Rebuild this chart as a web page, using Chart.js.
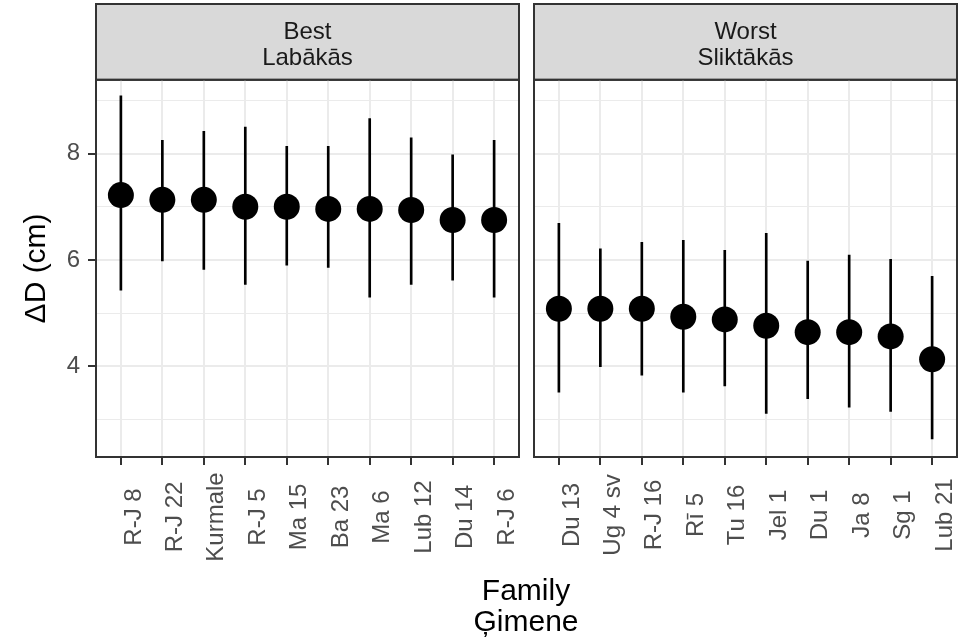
<!DOCTYPE html>
<html>
<head>
<meta charset="utf-8">
<title>ΔD by family</title>
<script src="https://cdn.jsdelivr.net/npm/chart.js@4/dist/chart.umd.min.js"></script>
<style>
    html, body { margin: 0; padding: 0; background: #fff; }
    #wrap { position: relative; width: 960px; height: 642px; overflow: hidden; }
    #wrap canvas { position: absolute; top: 0; }
    #chart-best { left: 0; }
    #chart-worst { left: 525px; }
    #x-title {
        position: absolute; left: 326px; top: 574px; width: 400px;
        text-align: center; font: 30px/31px "Liberation Sans", Arial, sans-serif; color: #000;
    }
</style>
</head>
<body>
<div id="wrap">
    <canvas id="chart-best" width="525" height="642"></canvas>
    <canvas id="chart-worst" width="435" height="642"></canvas>
    <div id="x-title">Family<br>Ģimene</div>
</div>
<script>
// values (ΔD, cm): mean and interval ends per family
const bestFamilies = ['R-J 8', 'R-J 22', 'Kurmale', 'R-J 5', 'Ma 15', 'Ba 23', 'Ma 6', 'Lub 12', 'Du 14', 'R-J 6'];
const bestMean = [7.22, 7.13, 7.13, 7.00, 7.00, 6.96, 6.96, 6.94, 6.75, 6.75];
const bestLow = [5.43, 5.98, 5.82, 5.54, 5.90, 5.86, 5.30, 5.54, 5.62, 5.30];
const bestHigh = [9.09, 8.25, 8.42, 8.50, 8.14, 8.14, 8.66, 8.30, 7.98, 8.25];

const worstFamilies = ['Du 13', 'Ug 4 sv', 'R-J 16', 'Rī 5', 'Tu 16', 'Jel 1', 'Du 1', 'Ja 8', 'Sg 1', 'Lub 21'];
const worstMean = [5.08, 5.08, 5.08, 4.93, 4.88, 4.76, 4.64, 4.64, 4.56, 4.13];
const worstLow = [3.51, 3.99, 3.83, 3.51, 3.63, 3.11, 3.39, 3.23, 3.15, 2.63];
const worstHigh = [6.69, 6.21, 6.33, 6.37, 6.18, 6.50, 5.98, 6.09, 6.01, 5.69];

const yTicks = [3, 4, 5, 6, 7, 8, 9];
const yLabelled = [4, 6, 8];
const yMin = 2.29;
const yMax = 9.39;

const FONT = '"Liberation Sans", Arial, sans-serif';
const DARK = '#333333';
const GRID = '#ebebeb';

// strip box behind the facet title, panel border and rotated family labels
const facetPanel = {
    id: 'facetPanel',
    beforeDraw(chart) {
        const a = chart.chartArea;
        const ctx = chart.ctx;
        ctx.save();
        ctx.fillStyle = '#d9d9d9';
        ctx.fillRect(a.left, 4, a.right - a.left, a.top - 4);
        ctx.strokeStyle = DARK;
        ctx.lineWidth = 2;
        ctx.strokeRect(a.left, 4, a.right - a.left, a.top - 4);
        ctx.restore();
    },
    afterDraw(chart, args, opts) {
        const a = chart.chartArea;
        const ctx = chart.ctx;
        const xs = chart.scales.x;
        ctx.save();
        ctx.strokeStyle = DARK;
        ctx.lineWidth = 2;
        ctx.strokeRect(a.left, a.top, a.right - a.left, a.bottom - a.top);
        ctx.font = `24px ${FONT}`;
        ctx.fillStyle = '#4d4d4d';
        ctx.textAlign = 'center';
        ctx.textBaseline = 'top';
        xs.ticks.forEach((t, i) => {
            const px = xs.getPixelForValue(t.value);
            ctx.save();
            ctx.translate(px + 1, opts.labelY);
            ctx.rotate(-Math.PI / 2);
            ctx.fillText(opts.labels[i], 0, 0);
            ctx.restore();
        });
        ctx.restore();
    },
};

function makePanel(canvasId, title, families, mean, low, high, first) {
    const bars = families.map((_, i) => ({ x: i + 1, y: [low[i], high[i]] }));
    const points = families.map((_, i) => ({ x: i + 1, y: mean[i] }));
    return new Chart(document.getElementById(canvasId), {
        type: 'bar',
        data: {
            datasets: [
                {
                    type: 'bar',
                    data: bars,
                    backgroundColor: '#000',
                    borderWidth: 0,
                    barThickness: 2,
                    grouped: false,
                    order: 2,
                },
                {
                    type: 'line',
                    data: points,
                    showLine: false,
                    pointStyle: 'circle',
                    pointRadius: 13,
                    pointBackgroundColor: '#000',
                    pointBorderWidth: 0,
                    clip: false,
                    order: 1,
                },
            ],
        },
        options: {
            responsive: false,
            animation: false,
            devicePixelRatio: 1,
            layout: {
                autoPadding: false,
                padding: first ? { left: 0, right: 6, top: 0, bottom: 0 } : { left: 9, right: 3, top: 0, bottom: 0 },
            },
            plugins: {
                legend: { display: false },
                tooltip: { enabled: false },
                title: {
                    display: true,
                    text: title,
                    fullSize: false,
                    color: '#1a1a1a',
                    font: { family: FONT, size: 24, weight: 'normal', lineHeight: 1.1 },
                    padding: { top: 19, bottom: 8 },
                },
                facetPanel: { labels: families, labelY: first ? 517 : 515 },
            },
            scales: {
                x: {
                    type: 'linear',
                    min: 0.4,
                    max: 10.6,
                    offset: false,
                    afterBuildTicks: (s) => { s.ticks = families.map((_, i) => ({ value: i + 1 })); },
                    afterFit: (s) => { s.height = 185; },
                    ticks: { display: false },
                    border: { display: false },
                    grid: {
                        offset: false,
                        color: GRID,
                        lineWidth: 2,
                        tickColor: DARK,
                        tickWidth: 2,
                        tickLength: 8,
                    },
                },
                y: {
                    type: 'linear',
                    min: yMin,
                    max: yMax,
                    afterBuildTicks: (s) => { s.ticks = yTicks.map((v) => ({ value: v })); },
                    afterFit: (s) => { s.width = first ? 96 : 0; },
                    border: { display: false },
                    title: {
                        display: first,
                        text: 'ΔD (cm)',
                        color: '#000',
                        font: { family: FONT, size: 30 },
                        padding: { top: 19, bottom: 0 },
                    },
                    ticks: {
                        display: first,
                        color: '#4d4d4d',
                        font: { family: FONT, size: 24 },
                        padding: 8,
                        callback: (v) => (yLabelled.includes(v) ? String(v) : ''),
                    },
                    grid: {
                        color: GRID,
                        lineWidth: (c) => (yLabelled.includes(c.tick.value) ? 2 : 1),
                        drawTicks: first,
                        tickColor: (c) => (yLabelled.includes(c.tick.value) ? DARK : 'rgba(0,0,0,0)'),
                        tickWidth: 2,
                        tickLength: 8,
                    },
                },
            },
        },
        plugins: [facetPanel],
    });
}

makePanel('chart-best', ['Best', 'Labākās'], bestFamilies, bestMean, bestLow, bestHigh, true);
makePanel('chart-worst', ['Worst', 'Sliktākās'], worstFamilies, worstMean, worstLow, worstHigh, false);
</script>
</body>
</html>
